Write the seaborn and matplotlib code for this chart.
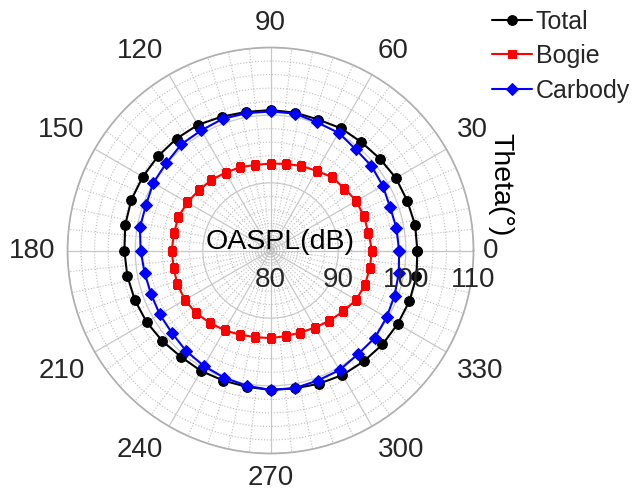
import numpy as np
import pandas as pd
import matplotlib
matplotlib.use("Agg")
import matplotlib.pyplot as plt
from matplotlib.ticker import MultipleLocator
from matplotlib.transforms import offset_copy
import seaborn as sns

# Directivity data, every 10 degrees
theta_deg = [0, 10, 20, 30, 40, 50, 60, 70, 80, 90, 100, 110,
             120, 130, 140, 150, 160, 170, 180, 190, 200, 210, 220, 230,
             240, 250, 260, 270, 280, 290, 300, 310, 320, 330, 340, 350]
total = [101.7, 101.7, 101.5, 101.4, 101.1, 100.9, 100.85, 100.6, 100.7, 100.75, 100.8, 101.05,
         101.45, 101.6, 101.7, 101.8, 101.9, 101.8, 101.6, 101.5, 101.35, 101.15, 100.85, 100.55,
         100.55, 100.45, 100.45, 100.6, 100.7, 100.95, 101.25, 101.4, 101.6, 101.7, 101.85, 101.9]
bogie = [95.0, 94.7, 94.7, 94.65, 94.25, 94.15, 93.6, 93.3, 93.0, 92.85, 92.85, 93.1,
         93.3, 93.6, 93.85, 94.2, 94.5, 94.5, 94.6, 94.55, 94.65, 94.6, 94.4, 93.95,
         93.6, 93.25, 93.0, 92.95, 92.85, 92.9, 93.15, 93.55, 94.0, 94.6, 94.85, 94.9]
carbody = [99.0, 98.9, 98.8, 99.15, 99.45, 99.55, 100.1, 100.15, 100.55, 100.55, 100.6, 100.7,
           100.5, 100.5, 100.1, 100.0, 99.6, 99.6, 99.2, 98.9, 98.8, 98.9, 99.0, 99.4,
           99.7, 100.0, 100.3, 100.6, 100.65, 100.45, 100.4, 100.05, 100.1, 99.8, 99.5, 99.25]
r_ticks = [80, 90, 100, 110]
theta_ticks = [0, 30, 60, 90, 120, 150, 180, 210, 240, 270, 300, 330]

sns.set_theme(style="white")
plt.rcParams['font.family'] = ['Liberation Sans', 'DejaVu Sans']

fig = plt.figure(figsize=(6.34, 4.96), dpi=100)
ax = fig.add_axes([0.1065, 0.0857, 0.6404, 0.8185], projection='polar')

# close the curves
th = np.deg2rad(theta_deg + [360])
series = [("Total", total, "black", "o", 7),
          ("Bogie", bogie, "#ff0000", "s", 5.5),
          ("Carbody", carbody, "#0000ff", "D", 6)]
for name, vals, col, mk, ms in series:
    sns.lineplot(x=th, y=vals + vals[:1], ax=ax, sort=False, color=col,
                 marker=mk, markersize=ms, markeredgecolor=col, linewidth=1.5,
                 label=name)

ax.set_ylim(80, 110)
ax.set_yticks(r_ticks)
ax.set_yticklabels([])
ax.set_xticks(np.deg2rad(theta_ticks))
ax.set_xticklabels([])
ax.xaxis.set_minor_locator(MultipleLocator(np.deg2rad(6)))
ax.yaxis.set_minor_locator(MultipleLocator(2))
ax.grid(which='major', color='#c8c8c8', linestyle='-', linewidth=0.9)
ax.grid(which='minor', color='#bdbdbd', linestyle=':', linewidth=0.8)
ax.tick_params(axis='both', which='both', length=0)
ax.spines['polar'].set_color('#b0b0b0')
ax.set_xlabel("")
ax.set_ylabel("")
ax.set_axisbelow(True)

# angle labels, anchored by their corner facing the circle
gap = 8.5
for a in theta_ticks:
    c, s = np.cos(np.deg2rad(a)), np.sin(np.deg2rad(a))
    ha = 'center' if abs(c) < 0.01 else ('left' if c > 0 else 'right')
    va = 'center' if abs(s) < 0.01 else ('bottom' if s > 0 else 'top')
    gx = gap * c if a != 0 else 7
    tr = offset_copy(ax.transData, fig=fig, x=gx, y=gap * s, units='points')
    ax.text(np.deg2rad(a), 110, str(a), transform=tr, ha=ha, va=va,
            fontsize=20, color='#262626', clip_on=False)

# radial tick labels below the 0 deg line
tr = offset_copy(ax.transData, fig=fig, y=-12, units='points')
for r in r_ticks:
    ax.text(0, r, str(r), transform=tr, ha='center', va='top', fontsize=20, color='#262626')

ax.text(0.523, 0.521, "OASPL(dB)", transform=ax.transAxes, ha='center', va='center',
        fontsize=20.5, color='black')
ax.text(1.066, 0.662, "Theta(°)", transform=ax.transAxes, ha='center', va='center',
        rotation=-90, fontsize=20.5, color='black')

handles, labels = ax.get_legend_handles_labels()
ax.get_legend().remove()
fig.legend(handles, labels, loc='upper right', bbox_to_anchor=(1.0, 0.988), frameon=False,
           fontsize=18, handlelength=1.6, handletextpad=0.15, labelspacing=0.42,
           borderaxespad=0.0, borderpad=0.15)

fig.savefig("out.png", dpi=100)
